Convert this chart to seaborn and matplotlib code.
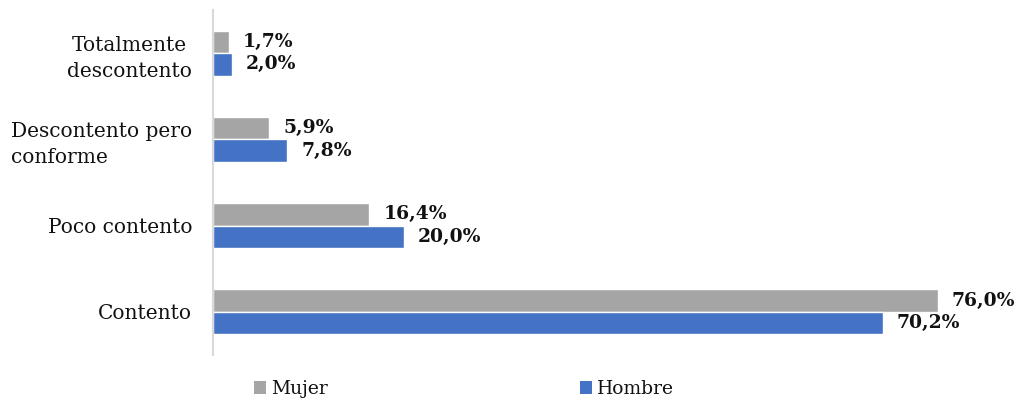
import matplotlib
matplotlib.use("Agg")
import matplotlib.pyplot as plt
import seaborn as sns
import pandas as pd
from matplotlib.patches import Patch

categories = ["Totalmente\ndescontento", "Descontento pero\nconforme", "Poco contento", "Contento"]
mujer = [1.7, 5.9, 16.4, 76.0]
hombre = [2.0, 7.8, 20.0, 70.2]
series_names = ["Mujer", "Hombre"]
colors = ["#A5A5A5", "#4472C4"]

sns.set_theme(style="white")
plt.rcParams["font.family"] = ["DejaVu Serif"]

df = pd.DataFrame({
    "cat": categories * 2,
    "val": mujer + hombre,
    "serie": [series_names[0]] * 4 + [series_names[1]] * 4,
})

fig = plt.figure(figsize=(10.21, 4.03), dpi=100)
ax = fig.add_axes([213 / 1021, 1 - 355 / 403, (976 - 213) / 1021, (355 - 10) / 403])
sns.barplot(data=df, y="cat", x="val", hue="serie", order=categories,
            hue_order=series_names, palette=colors, orient="h", width=0.52,
            ax=ax, legend=False, saturation=1)

for cont, vals in zip(ax.containers, [mujer, hombre]):
    ax.bar_label(cont, labels=[f"{v:.1f}%".replace(".", ",") for v in vals],
                 padding=10, fontsize=13.5, fontweight="semibold", color="#111111")

ax.set_xlim(0, 80)
ax.set_ylim(3.5, -0.5)
ax.set_xlabel("")
ax.set_ylabel("")
ax.set_xticks([])
ax.tick_params(axis="y", length=0, pad=15, labelsize=14.5, labelcolor="#111111")
for i, lbl in enumerate(ax.get_yticklabels()):
    lbl.set_horizontalalignment("right")
    lbl.set_multialignment("left" if i == 1 else "center")
    lbl.set_linespacing(1.45)
for s in ["top", "right", "bottom"]:
    ax.spines[s].set_visible(False)
ax.spines["left"].set_color("#D9D9D9")
ax.spines["left"].set_linewidth(1.5)

xs = [254 / 1021, 580 / 1021]
for name, c, x in zip(series_names, colors, xs):
    fig.legend([Patch(facecolor=c, edgecolor="none")], [name], loc="center left",
               bbox_to_anchor=(x, 1 - 389 / 403), frameon=False, fontsize=13.5,
               handlelength=0.65, handleheight=0.65, handletextpad=0.25,
               borderpad=0, borderaxespad=0, labelcolor="#111111")

fig.savefig("out.png", dpi=100)
